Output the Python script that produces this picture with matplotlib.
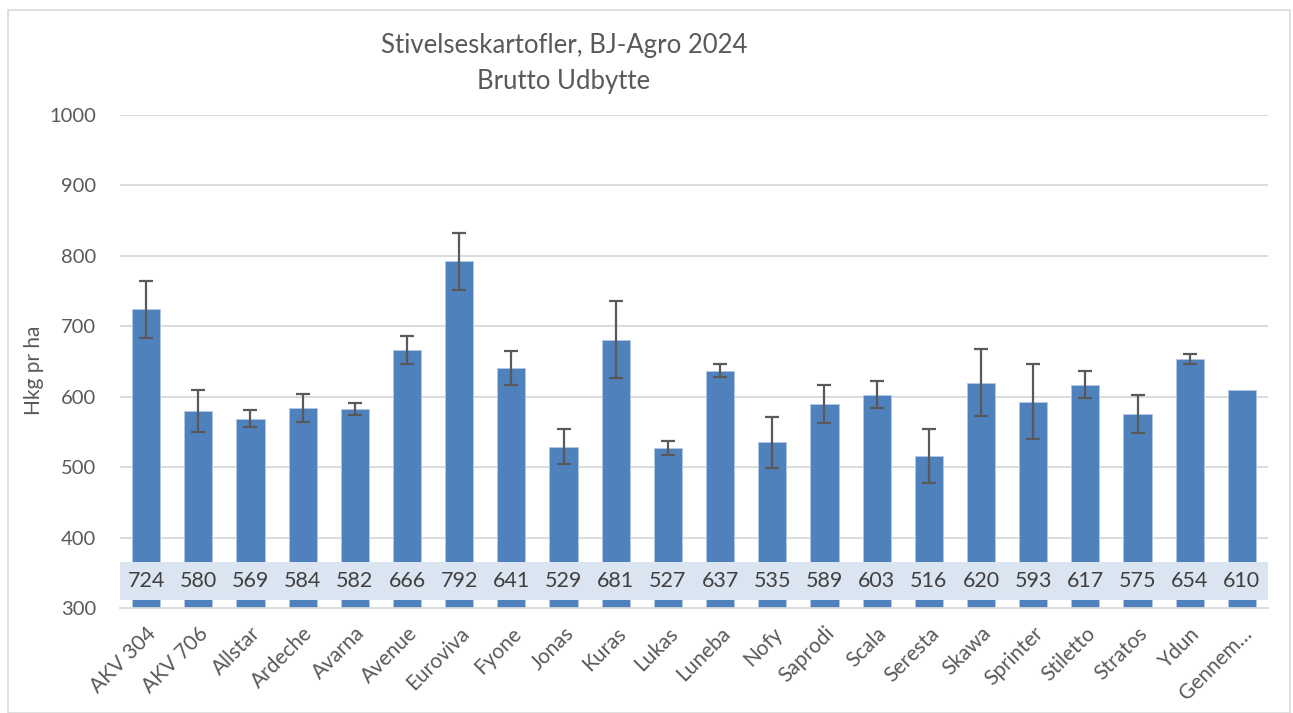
import matplotlib.pyplot as plt
import numpy as np
from matplotlib.patches import Rectangle

# Data
sorter = ['AKV 304', 'AKV 706', 'Allstar', 'Ardeche', 'Avarna', 'Avenue',
          'Euroviva', 'Fyone', 'Jonas', 'Kuras', 'Lukas', 'Luneba', 'Nofy',
          'Saprodi', 'Scala', 'Seresta', 'Skawa', 'Sprinter', 'Stiletto',
          'Stratos', 'Ydun', 'Gennem\u2026']
udbytte = [724, 580, 569, 584, 582, 666, 792, 641, 529, 681, 527, 637, 535,
           589, 603, 516, 620, 593, 617, 575, 654, 610]
fejl = [40, 30, 12, 20, 8.5, 19.5, 40, 24, 25, 55, 10, 9.5, 36, 27, 19, 38,
        47.5, 53, 19, 27, 7, 0]

y_ticks = [300, 400, 500, 600, 700, 800, 900, 1000]
title_lines = ['Stivelseskartofler, BJ-Agro 2024', 'Brutto Udbytte']
y_label = 'Hkg pr ha'

plt.rcParams['font.family'] = ['Lato', 'DejaVu Sans']

text_col = '#595959'
bar_col = '#4f81bd'
grid_col = '#d9d9d9'
band_col = '#dbe4f1'

fig = plt.figure(figsize=(12.93, 7.13), dpi=100)
ax = fig.add_axes([120/1293, 1 - 608/713, (1268 - 120)/1293, (608 - 115)/713])

x = np.arange(len(sorter))

#Gridlines
for t in y_ticks[1:]:
   ax.axhline(t, color=grid_col, lw=1.3, zorder=0)

ax.bar(x, udbytte, width=0.54, bottom=0, color=bar_col, edgecolor='#b4c7e7',
       linewidth=0.6, zorder=2)

#Error bars (last category has none)
has_err = np.array(fejl) > 0
ax.errorbar(x[has_err], np.array(udbytte)[has_err], yerr=np.array(fejl)[has_err],
            fmt='none', ecolor='#595959', elinewidth=1.6, capsize=5,
            capthick=1.6, zorder=3)

#Label band at the base of the bars
ax.axhspan(311, 365, color=band_col, zorder=4, lw=0)
for xi, v in zip(x, udbytte):
   ax.text(xi, 338, str(v), ha='center', va='center', fontsize=15.5,
           color='#404040', zorder=5)

ax.set_xlim(-0.5, len(sorter) - 0.5)
ax.set_ylim(300, 1000)
ax.set_yticks(y_ticks)
ax.set_yticklabels([str(t) for t in y_ticks], fontsize=14.5, color=text_col)
ax.tick_params(axis='y', length=0, pad=17)
ax.set_xticks(x)
ax.set_xticklabels(sorter, rotation=45, ha='right', rotation_mode='anchor',
                   fontsize=15, color=text_col)
ax.tick_params(axis='x', length=0, pad=11)

for s in ['top', 'right', 'left']:
   ax.spines[s].set_visible(False)
ax.spines['bottom'].set_color(grid_col)
ax.spines['bottom'].set_linewidth(1.3)
ax.spines['bottom'].set_zorder(6)

ax.set_ylabel(y_label, fontsize=15, color=text_col)
ax.yaxis.set_label_coords(-0.066, 0.483)

fig.text(564/1293, 1 - 46/713, title_lines[0], ha='center', va='center',
         fontsize=18.5, color=text_col)
fig.text(564/1293, 1 - 81/713, title_lines[1], ha='center', va='center',
         fontsize=18.5, color=text_col)

#Chart border
fig.patches.append(Rectangle((8/1293, 0.0), (1290 - 8)/1293, 1 - 10/713,
                             transform=fig.transFigure, fill=False,
                             edgecolor=grid_col, lw=1.2))

plt.savefig('out.png', dpi=100)
